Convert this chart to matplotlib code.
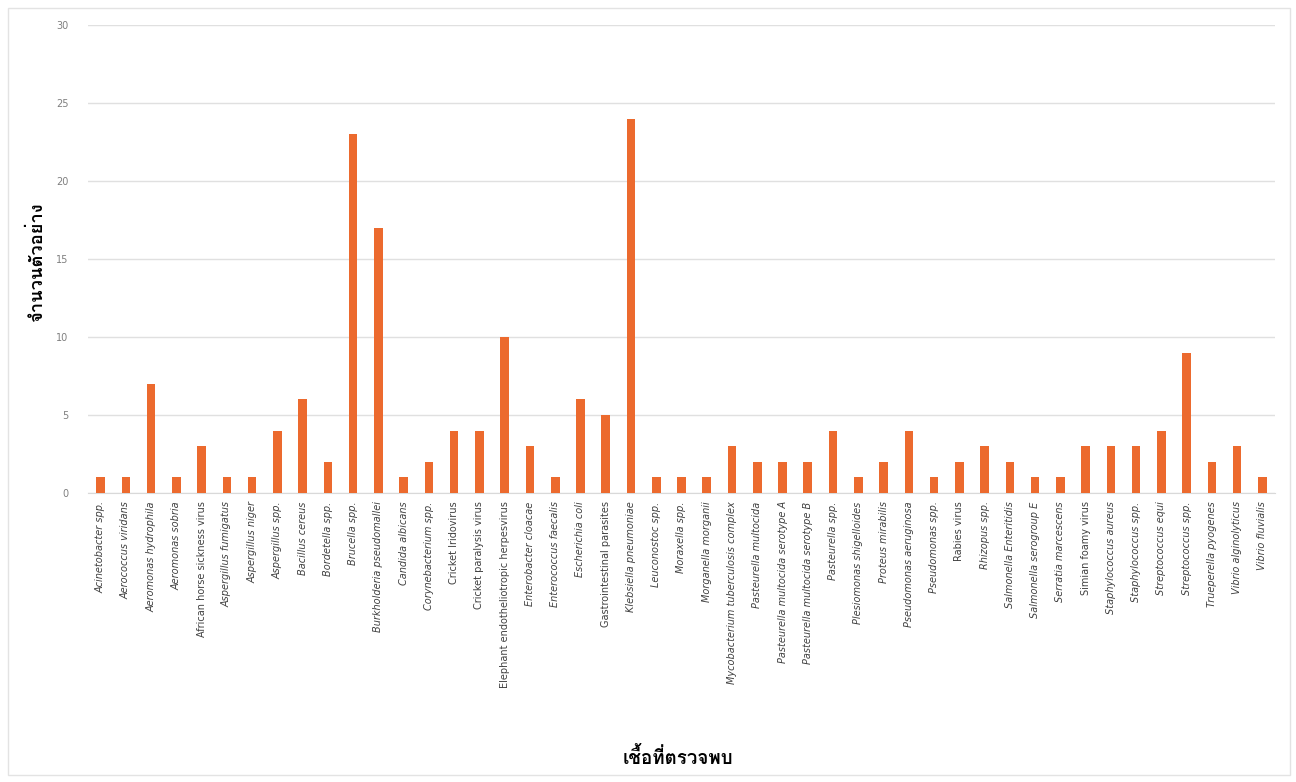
import matplotlib
matplotlib.use("Agg")
import matplotlib.pyplot as plt
from matplotlib import font_manager
from matplotlib.ft2font import FT2Font
from matplotlib.patches import Rectangle

categories = [
    "Acinetobacter spp.", "Aerococcus viridans", "Aeromonas hydrophila", "Aeromonas sobria",
    "African horse sickness virus", "Aspergillus fumigatus", "Aspergillus niger", "Aspergillus spp.",
    "Bacillus cereus", "Bordetella spp.", "Brucella spp.", "Burkholderia pseudomallei",
    "Candida albicans", "Corynebacterium spp.", "Cricket Iridovirus", "Cricket paralysis virus",
    "Elephant endotheliotropic herpesvirus", "Enterobacter cloacae", "Enterococcus faecalis",
    "Escherichia coli", "Gastrointestinal parasites", "Klebsiella pneumoniae", "Leuconostoc spp.",
    "Moraxella spp.", "Morganella morganii", "Mycobacterium tuberculosis complex",
    "Pasteurella multocida", "Pasteurella multocida serotype A", "Pasteurella multocida serotype B",
    "Pasteurella spp.", "Plesiomonas shigelloides", "Proteus mirabilis", "Pseudomonas aeruginosa",
    "Pseudomonas spp.", "Rabies virus", "Rhizopus spp.", "Salmonella Enteritidis",
    "Salmonella serogroup E", "Serratia marcescens", "Simian foamy virus", "Staphylococcus aureus",
    "Staphylococcus spp.", "Streptococcus equi", "Streptococcus spp.", "Trueperella pyogenes",
    "Vibrio alginolyticus", "Vibrio fluvialis",
]
values = [1, 1, 7, 1, 3, 1, 1, 4, 6, 2, 23, 17, 1, 2, 4, 4, 10, 3, 1, 6, 5, 24, 1, 1, 1, 3,
          2, 2, 2, 4, 1, 2, 4, 1, 2, 3, 2, 1, 1, 3, 3, 3, 4, 9, 2, 3, 1]
upright = {"African horse sickness virus", "Cricket Iridovirus", "Cricket paralysis virus",
           "Elephant endotheliotropic herpesvirus", "Gastrointestinal parasites",
           "Rabies virus", "Simian foamy virus"}
yticks = [0, 5, 10, 15, 20, 25, 30]
ylabel = "จำนวนตัวอย่าง"
xlabel = "เชื้อที่ตรวจพบ"


def find_thai_font():
    found = {}
    for f in font_manager.fontManager.ttflist:
        try:
            ft = FT2Font(f.fname)
            if ord("จ") in ft.get_charmap():
                w = f.weight if isinstance(f.weight, int) else 400
                found.setdefault(f.name, set()).add(w)
        except Exception:
            pass
    if not found:
        return None
    preferred = ["Noto Sans Thai", "Noto Sans Thai Looped", "Loma", "Garuda", "Tlwg Typo",
                 "Waree", "Sarabun", "Norasi", "Kinnari"]
    bold_ok = [n for n, ws in found.items() if any(w >= 600 for w in ws)]
    for p in preferred:
        if p in bold_ok:
            return p
    if bold_ok:
        return sorted(bold_ok)[0]
    for p in preferred:
        if p in found:
            return p
    return sorted(found)[0]


thai = find_thai_font()
thai_family = [thai, "DejaVu Sans"] if thai else ["DejaVu Sans"]

fig = plt.figure(figsize=(12.96, 7.82), dpi=100)
fig.patches.append(Rectangle((8 / 1296, 7 / 782), 1282 / 1296, 767 / 782, transform=fig.transFigure,
                             fill=False, edgecolor="#E3E3E3", linewidth=1.0))
ax = fig.add_axes([88 / 1296, 1 - 493 / 782, (1275 - 88) / 1296, (493 - 25) / 782])

x = list(range(len(categories)))
ax.bar(x, values, width=0.34, color="#EC6A2E", zorder=3)
ax.set_xlim(-0.5, len(categories) - 0.5)
ax.set_ylim(0, 30)
ax.set_yticks(yticks)
ax.set_yticklabels([str(t) for t in yticks], fontsize=7, color="#7F7F7F")
ax.yaxis.grid(True, color="#E0E0E0", linewidth=1.0, zorder=0)
ax.set_axisbelow(True)
for s in ["top", "right", "left"]:
    ax.spines[s].set_visible(False)
ax.spines["bottom"].set_color("#D9D9D9")
ax.tick_params(axis="y", length=0, pad=14)
ax.tick_params(axis="x", length=0, pad=6)
ax.set_xticks(x)
ax.set_xticklabels(categories, rotation=90, fontsize=7, color="#404040", ha="center", va="top")
for lbl, name in zip(ax.get_xticklabels(), categories):
    lbl.set_fontstyle("normal" if name in upright else "italic")

fig.text(37 / 1296, 1 - 262 / 782, ylabel, rotation=90, ha="center", va="center",
         fontsize=13.2, fontweight="bold", family=thai_family, color="#000000")
fig.text(678 / 1296, 1 - 757 / 782, xlabel, ha="center", va="center",
         fontsize=13.5, fontweight="bold", family=thai_family, color="#000000")

fig.savefig("out.png", dpi=100, facecolor="white")
